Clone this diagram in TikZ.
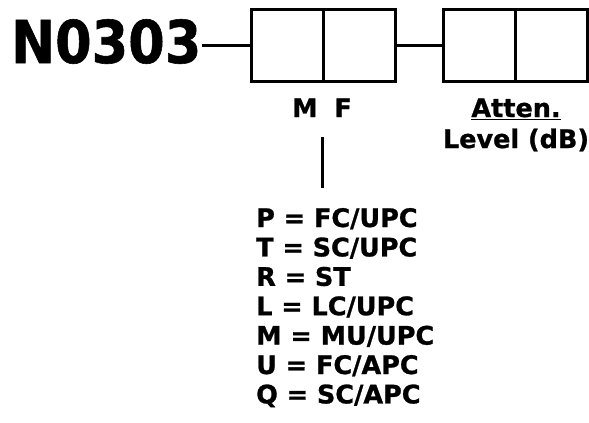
\documentclass[tikz,border=0pt]{standalone}
\usepackage{fontspec}
\setmainfont{DejaVu Sans}[BoldFeatures={FakeBold=1}]
\begin{document}
\begin{tikzpicture}[x=1pt,y=-1pt]
\useasboundingbox (0,0) rectangle (589,423);
\tikzset{
  cell/.style={draw, line width=3pt, minimum width=72pt, minimum height=72pt, inner sep=0pt, anchor=north west},
  lbl/.style={font=\bfseries\fontsize{25.5}{29}\selectfont, inner sep=0pt},
  conn/.style={line width=3pt}
}
\node[font=\bfseries\fontsize{59}{62}\selectfont, anchor=base west, inner sep=0pt, xscale=0.89] (title) at (11,63) {N0303};
\node[cell] (m) at (250,8) {};
\node[cell] (f) at (322,8) {};
\node[cell] (a1) at (442,8) {};
\node[cell] (a2) at (514,8) {};
\coordinate (tl) at ([xshift=1pt]title.east |- m.west);
\draw[conn] (tl) -- (m.west);
\draw[conn] (f.east) -- (a1.west);
\node[lbl, anchor=base] (mf) at (322,117) {M\hspace{0.66em}F};
\node[lbl, anchor=base] (att) at (516,117) {\underline{Atten.}};
\node[lbl, anchor=base] (lev) at (516,148) {Level (dB)};
\coordinate (vt) at (322,137);
\coordinate (vb) at (322,188);
\draw[conn] (vt) -- (vb);
\foreach \t [count=\i] in {P = FC/UPC, T = SC/UPC, R = ST, L = LC/UPC, M = MU/UPC, U = FC/APC, Q = SC/APC}
  \node[lbl, anchor=base west] (c\i) at (256,{227+(\i-1)*29.4}) {\t};
\end{tikzpicture}
\end{document}
